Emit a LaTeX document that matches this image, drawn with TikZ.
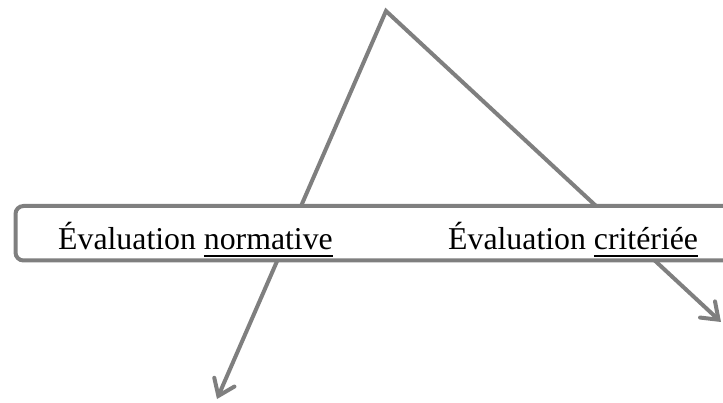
\documentclass[tikz,border=0pt]{standalone}
\usepackage{fontspec}
\setmainfont{Liberation Serif}
\usetikzlibrary{arrows.meta, positioning}
\definecolor{linegray}{RGB}{127,127,127}
\newcommand{\undl}[1]{\setbox0\hbox{#1}\rlap{\rule[-6.7pt]{\wd0}{2pt}}\box0} % underlined word
\tikzset{
    x=1pt, y=-1pt, % pixel-like units, y grows downwards
    every node/.style={font=\fontsize{31.8}{38}\selectfont}, % large serif text
    spread/.style={draw=linegray, line width=4pt, miter limit=10,
        {Straight Barb[length=15pt, width=22pt, line cap=round]}-{Straight Barb[length=15pt, width=22pt, line cap=round]}}, % the two arrows
    band/.style={draw=linegray, line width=4pt, fill=white, rounded corners=8pt,
        minimum width=744pt, minimum height=54.5pt, inner sep=0pt}, % the long box
    label/.style={anchor=base west, inner sep=0pt}, % texts in the box
    }
\begin{document}
\begin{tikzpicture}
\useasboundingbox (0,0) rectangle (723,403);
\clip (0,0) rectangle (723,403);

\coordinate (top) at (386,11);
\coordinate (n) at (217,399);
\coordinate (c) at (721,322);
\draw[spread] (n) -- (top) -- (c);

\node[band] (box) at (387.5,233.25) {};
\node[label] (norm) at (58,250) {Évaluation \undl{normative}};
\node[label] (crit) at (448,250) {Évaluation \undl{critériée}};

\end{tikzpicture}
\end{document}
